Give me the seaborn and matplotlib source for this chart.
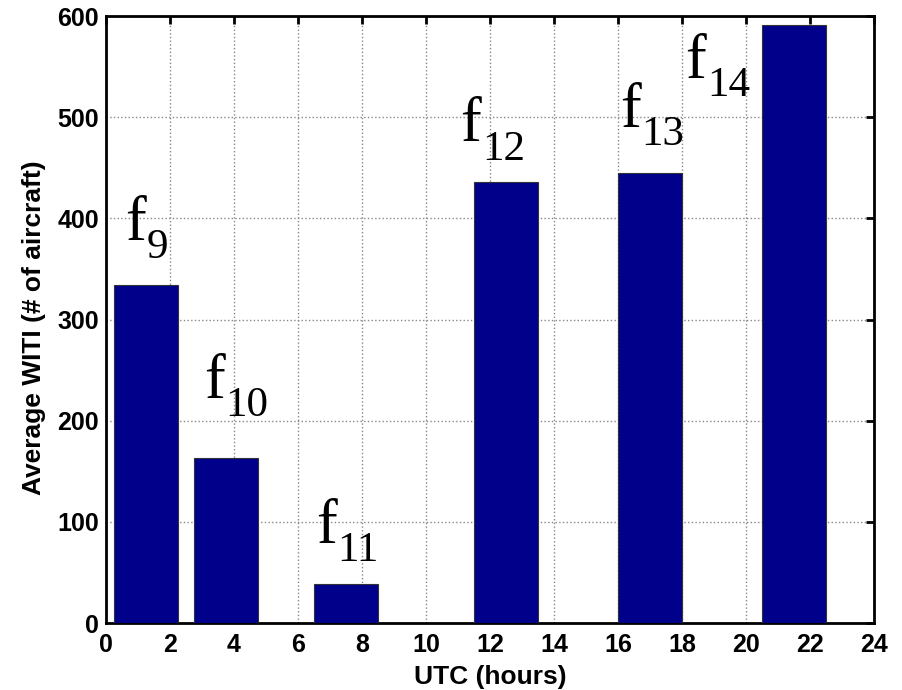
import matplotlib
matplotlib.use("Agg")
import matplotlib.pyplot as plt
import seaborn as sns
import pandas as pd

# Data
utc_hours = [1.25, 3.75, 7.5, 12.5, 17.0, 21.5]
avg_witi = [334, 163.5, 38.5, 435.5, 444.5, 591]
bar_label_main = ["f", "f", "f", "f", "f", "f"]
bar_label_sub = ["9", "10", "11", "12", "13", "14"]
x_ticks = list(range(0, 25, 2))
y_ticks = list(range(0, 601, 100))

sns.set_style("white")
plt.rcParams["font.family"] = ["Liberation Sans", "DejaVu Sans"]

df = pd.DataFrame({"utc": utc_hours, "witi": avg_witi})

fig = plt.figure(figsize=(9.03, 6.90), dpi=100)
ax = fig.add_axes([0.1174, 0.0971, 0.8506, 0.8797])

sns.barplot(data=df, x="utc", y="witi", native_scale=True, color="#00008B",
            saturation=1, edgecolor="#333333", linewidth=0.8, ax=ax, zorder=3)

ax.set_xlim(0, 24)
ax.set_ylim(0, 600)
ax.set_xticks(x_ticks)
ax.set_yticks(y_ticks)
ax.set_xticklabels([str(t) for t in x_ticks])
ax.set_yticklabels([str(t) for t in y_ticks])
ax.grid(True, linestyle=":", color="#888888", linewidth=1.0, zorder=0)
ax.set_axisbelow(True)

for s in ax.spines.values():
    s.set_visible(True)
    s.set_color("black")
    s.set_linewidth(2.0)

ax.tick_params(direction="in", length=6, width=2, top=True, right=True,
               labelsize=18, colors="black")
ax.tick_params(axis="x", pad=7)
ax.tick_params(axis="y", pad=5)
for lbl in ax.get_xticklabels() + ax.get_yticklabels():
    lbl.set_fontweight("bold")

ax.set_xlabel("UTC (hours)", fontsize=19, fontweight="bold", color="black", labelpad=6)
ax.set_ylabel("Average WITI (# of aircraft)", fontsize=19, fontweight="bold",
              color="black", labelpad=8)
ax.yaxis.set_label_coords(-0.078, 0.487)

# annotation anchor positions (x, y) for labels (left / baseline of the "f")
label_pos = [(0.59, 379), (3.06, 222.5), (6.56, 79), (11.08, 476), (16.06, 490.7), (18.1, 538.8)]
serif = ["Liberation Serif", "DejaVu Serif"]
for (lx, ly), main, sub in zip(label_pos, bar_label_main, bar_label_sub):
    ax.text(lx, ly, main, fontsize=45, family=serif, ha="left", va="baseline",
            color="black", zorder=4)
    ax.annotate(sub, xy=(lx, ly), xytext=(15.5, -13), textcoords="offset points",
                fontsize=31, family=serif, ha="left", va="baseline",
                color="black", zorder=4)

fig.savefig("out.png", dpi=100)
